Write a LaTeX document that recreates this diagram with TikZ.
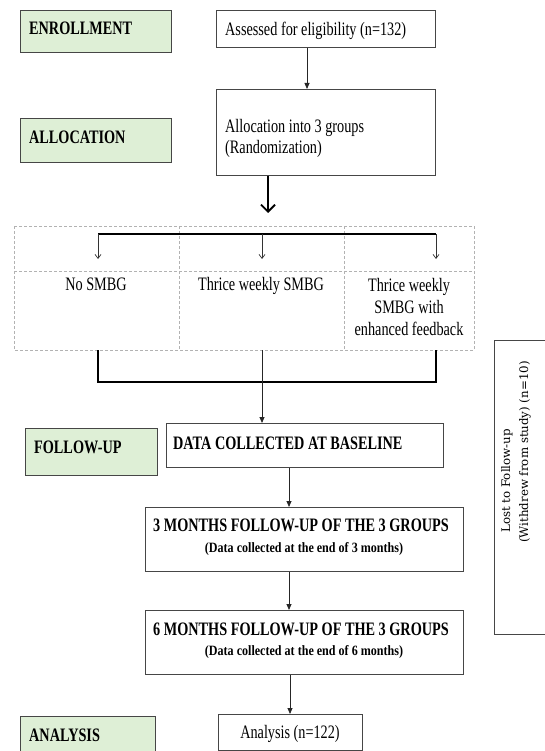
\documentclass[tikz,border=0pt]{standalone}
\usepackage{fontspec}
\setmainfont{Liberation Serif}[FakeStretch=0.75]
\newfontfamily\lostfont{DejaVu Serif}
\newfontfamily\subfont{Liberation Serif}[FakeStretch=0.85]
\usetikzlibrary{arrows.meta}
\definecolor{stagegreen}{RGB}{222,239,214}
\definecolor{edgegray}{RGB}{70,70,70}
\begin{document}
\begin{tikzpicture}[x=1pt,y=-1pt,
  stage/.style={draw=edgegray,line width=1.1pt,fill=stagegreen,anchor=north west,inner sep=0pt},
  stagetext/.style={anchor=base west,inner sep=0pt,font=\bfseries\fontsize{19}{22}\selectfont},
  flowbox/.style={draw=edgegray,line width=1pt,anchor=north west,inner sep=0pt},
  bodytext/.style={inner sep=0pt,font=\fontsize{19}{21}\selectfont},
  boldtext/.style={inner sep=0pt,font=\bfseries\fontsize{19}{21}\selectfont},
  subtext/.style={inner sep=0pt,anchor=base,font=\subfont\bfseries\fontsize{14.2}{16}\selectfont},
  thin/.style={line width=0.8pt,draw=black!85,-{Triangle[length=6pt,width=5pt]}},
  bracket/.style={line width=1.8pt,black},
  barb/.style={line width=0.7pt,black!80,-{Straight Barb[length=4pt,width=6pt]}},
  grid/.style={densely dashed,draw=black!30,line width=0.5pt},
]
\useasboundingbox (0,0) rectangle (545,751);
% stage labels
\node[stage,minimum width=151pt,minimum height=42pt] (enr) at (20,10) {};
\node[stagetext] (enrt) at (29,35) {ENROLLMENT};
\node[stage,minimum width=151pt,minimum height=44pt] (alc) at (20,118) {};
\node[stagetext] (alct) at (29,144) {ALLOCATION};
\node[stage,minimum width=132pt,minimum height=47pt] (fol) at (25,428) {};
\node[stagetext] (folt) at (34,453) {FOLLOW-UP};
\node[stage,minimum width=135pt,minimum height=40pt] (ana) at (20,716) {};
\node[stagetext] (anat) at (29,741) {ANALYSIS};
% flow boxes
\node[flowbox,minimum width=219pt,minimum height=37pt] (ass) at (216,10) {};
\node[bodytext,anchor=base west] (asst) at (225,36) {Assessed for eligibility (n=132)};
\node[flowbox,minimum width=219pt,minimum height=86pt] (allo) at (216,89) {};
\node[bodytext,anchor=base west] (allot1) at (225,133) {Allocation into 3 groups};
\node[bodytext,anchor=base west] (allot2) at (225,154) {(Randomization)};
\coordinate (alloarr) at (268,213);
% dashed table
\draw[grid] (14,226) rectangle (474,350);
\draw[grid] (14,271) -- (474,271);
\draw[grid] (179,226) -- (179,350);
\draw[grid] (344,226) -- (344,350);
\node[bodytext,anchor=base] (g1) at (96,290) {No SMBG};
\node[bodytext,anchor=base] (g2) at (261,290) {Thrice weekly SMBG};
\node[bodytext,anchor=base] (g3a) at (409,291) {Thrice weekly};
\node[bodytext,anchor=base] (g3b) at (409,313) {SMBG with};
\node[bodytext,anchor=base] (g3c) at (409,335) {enhanced feedback};
% top bracket
\coordinate (b1) at (98,234);
\coordinate (b2) at (262,234);
\coordinate (b3) at (436,234);
\coordinate (a1) at (98,259);
\coordinate (a2) at (262,259);
\coordinate (a3) at (436,259);
\draw[bracket] (b1) -- (b3);
\draw[barb] (b1) -- (a1);
\draw[barb] (b2) -- (a2);
\draw[barb] (b3) -- (a3);
% bottom bracket
\coordinate (c1) at (98,350);
\coordinate (c3) at (436,350);
\coordinate (c2) at (262,350);
\draw[bracket] (c1) -- (98,382) -- (436,382) -- (c3);
% follow-up boxes
\node[flowbox,minimum width=277pt,minimum height=44pt] (base) at (166,423) {};
\node[boldtext,anchor=base west] (baset) at (173,449) {DATA COLLECTED AT BASELINE};
\node[flowbox,minimum width=318pt,minimum height=64pt] (m3) at (145,507) {};
\node[boldtext,anchor=base] (m3t) at (301,531) {3 MONTHS FOLLOW-UP OF THE 3 GROUPS};
\node[subtext] (m3s) at (304,552) {(Data collected at the end of 3 months)};
\node[flowbox,minimum width=318pt,minimum height=64pt] (m6) at (145,610) {};
\node[boldtext,anchor=base] (m6t) at (301,635) {6 MONTHS FOLLOW-UP OF THE 3 GROUPS};
\node[subtext] (m6s) at (304,655) {(Data collected at the end of 6 months)};
\node[flowbox,minimum width=144pt,minimum height=36pt] (an) at (218,714) {};
\node[bodytext,anchor=base] (ant) at (290,738) {Analysis (n=122)};
% lost box
\coordinate (l1) at (545,340);
\coordinate (l2) at (494,340);
\coordinate (l3) at (494,634);
\coordinate (l4) at (545,634);
\draw[draw=edgegray,line width=1pt] (l1) -- (l2) -- (l3) -- (l4);
\node[rotate=90,align=left,font=\lostfont\fontsize{11.8}{18}\selectfont] (lost) at (516,452) {\hspace*{10pt}Lost to Follow-up\\(Withdrew from study) (n=10)};
% arrows
\draw[thin] (ass.south -| 307,0) -- (allo.north -| 307,0);
\draw[line width=1.8pt,-{Straight Barb[length=7pt,width=14pt,line width=1.8pt]}] (allo.south -| 268,0) -- (alloarr);
\draw[thin] (c2) -- (base.north -| c2);
\draw[thin] (base.south -| 289,0) -- (m3.north -| 289,0);
\draw[thin] (m3.south -| 289,0) -- (m6.north -| 289,0);
\draw[thin] (m6.south -| 290,0) -- (an.north -| 290,0);
\end{tikzpicture}
\end{document}
